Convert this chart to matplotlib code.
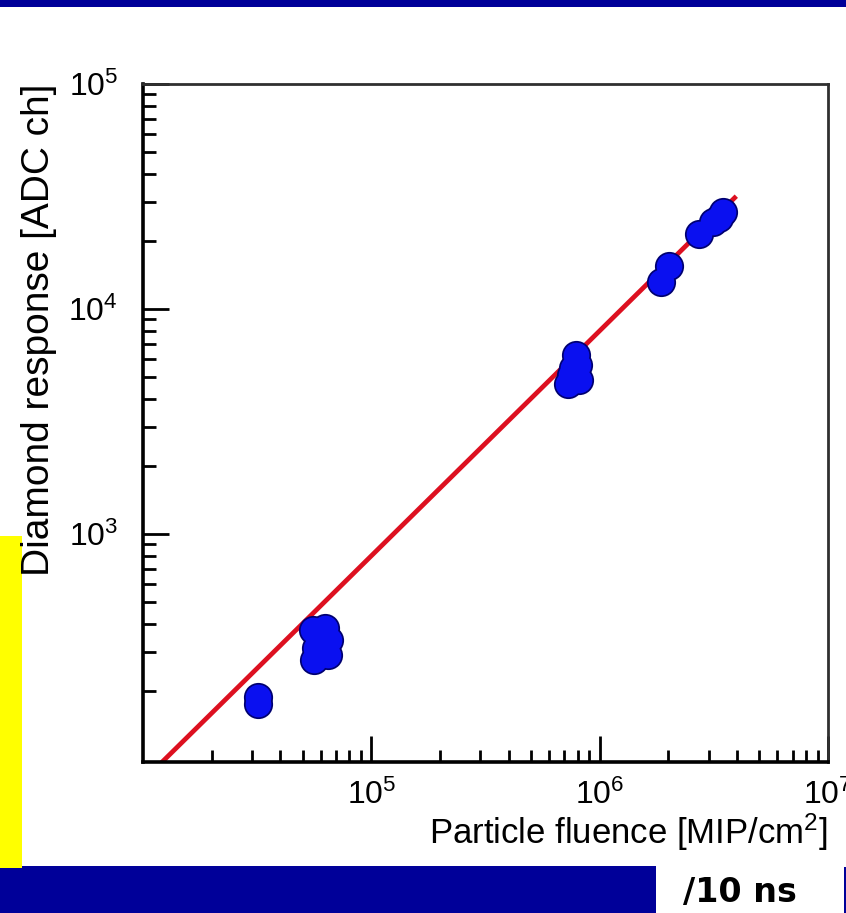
import numpy as np
import matplotlib
matplotlib.use("Agg")
import matplotlib.pyplot as plt
from matplotlib.patches import Rectangle

# --- data ---
fluence = [3.2e4, 3.2e4,
           5.57e4, 6.28e4, 6.55e4, 5.74e4, 6.48e4, 5.62e4, 6.1e4,
           7.85e5, 8.0e5, 7.47e5, 7.24e5, 8.09e5, 7.62e5,
           1.85e6, 2.01e6,
           2.72e6, 3.13e6, 3.46e6, 3.32e6]
response = [188, 176,
            374, 382, 338, 311, 290, 275, 321,
            6250, 5640, 5090, 4640, 4830, 5470,
            13200, 15500,
            21540, 24370, 26990, 25350]

fit_slope = 0.008          # response = fit_slope * fluence
fit_range = [1.0e4, 3.9e6]

x_ticks = [1e5, 1e6, 1e7]
x_tick_labels = [r'$10^{5}$', r'$10^{6}$', r'$10^{7}$']
y_ticks = [1e3, 1e4, 1e5]
y_tick_labels = [r'$10^{3}$', r'$10^{4}$', r'$10^{5}$']

plt.rcParams['font.family'] = ['Liberation Sans', 'DejaVu Sans']
plt.rcParams['mathtext.fontset'] = 'custom'
plt.rcParams['mathtext.rm'] = 'Liberation Sans'
plt.rcParams['mathtext.it'] = 'Liberation Sans'

navy = '#000099'

fig = plt.figure(figsize=(8.46, 9.13), dpi=100)

# slide decorations (behind everything)
fig.patches.append(Rectangle((0, 1 - 7 / 913), 1, 7 / 913, transform=fig.transFigure,
                             facecolor=navy, edgecolor='none', zorder=-1))
fig.patches.append(Rectangle((0, 0), 656 / 846, 47 / 913, transform=fig.transFigure,
                             facecolor=navy, edgecolor='none', zorder=-1))
fig.patches.append(Rectangle((0, 45 / 913), 22 / 846, 332 / 913, transform=fig.transFigure,
                             facecolor='#ffff00', edgecolor='none', zorder=-1))
fig.patches.append(Rectangle((844 / 846, 0), 2 / 846, 46 / 913, transform=fig.transFigure,
                             facecolor=navy, edgecolor='none', zorder=-1))
fig.text(683 / 846, 0.022, '/10 ns', fontsize=24, fontweight='bold',
         family='DejaVu Sans', ha='left', va='center')

ax = fig.add_axes([143 / 846, 1 - 762 / 913, 685 / 846, 678 / 913])
ax.set_xscale('log')
ax.set_yscale('log')
ax.set_xlim(1e4, 1e7)
ax.set_ylim(97, 1e5)

# fit line
fx = np.array(fit_range)
ax.plot(fx, fit_slope * fx, color='#dd1020', lw=3.4, zorder=2)

# measurements: dark outline layer, then solid fill so blobs merge
ax.plot(fluence, response, 'o', ms=21, color='#000070', mew=0, zorder=3, linestyle='none')
ax.plot(fluence, response, 'o', ms=18.5, color='#0a10f0', mew=0, zorder=4, linestyle='none')

ax.set_xticks(x_ticks)
ax.set_xticklabels(x_tick_labels)
ax.set_yticks(y_ticks)
ax.set_yticklabels(y_tick_labels)

ax.tick_params(which='major', direction='in', length=19, width=2, labelsize=23,
               top=False, right=False)
ax.tick_params(which='minor', direction='in', length=9, width=2,
               top=False, right=False)
ax.tick_params(axis='x', which='major', pad=13)
ax.tick_params(axis='y', which='major', pad=18)

for side in ['left', 'bottom']:
    ax.spines[side].set_linewidth(2.6)
    ax.spines[side].set_color('black')
for side in ['top', 'right']:
    ax.spines[side].set_linewidth(2.0)
    ax.spines[side].set_color('#303030')

ax.set_xlabel(r'Particle fluence [MIP/cm$^{2}$]', fontsize=25, loc='right', labelpad=0)
ax.set_ylabel('Diamond response [ADC ch]', fontsize=28, loc='top', labelpad=8)

fig.savefig('out.png', dpi=100)
